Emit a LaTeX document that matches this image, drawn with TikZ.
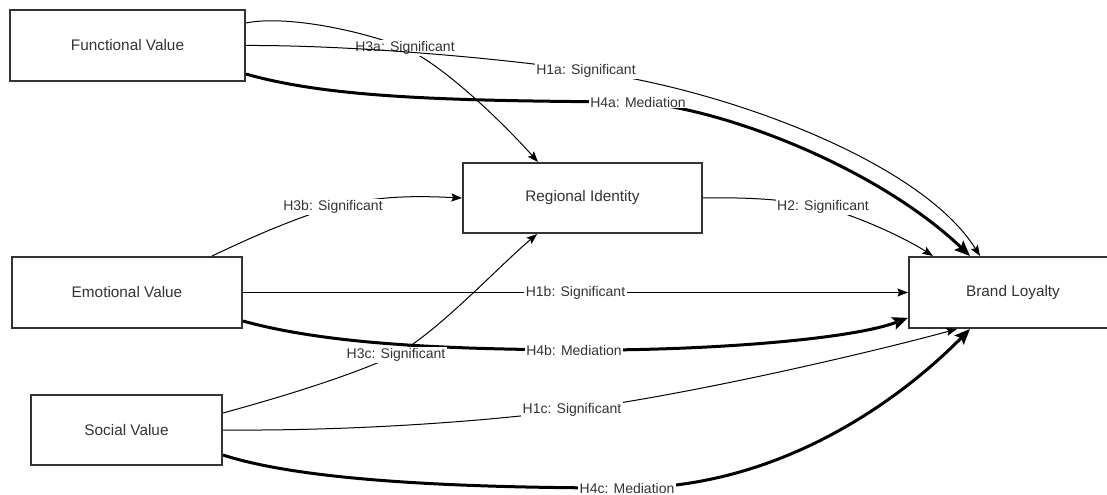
\documentclass[tikz,border=0pt]{standalone}
\usepackage{fontspec}
\setmainfont{Liberation Sans}
\usetikzlibrary{arrows.meta}
\definecolor{ink}{HTML}{333333}
\begin{document}
\begin{tikzpicture}[x=0.75pt,y=-0.75pt,
  box/.style={draw=ink, line width=1.5pt, fill=white, text=ink, inner sep=0pt,
    font=\fontsize{11.5}{13}\selectfont},
  lbl/.style={fill=white, text=ink, inner sep=1pt, font=\fontsize{10.5}{12}\selectfont},
  thinedge/.style={line width=0.75pt, -{Stealth[length=8pt,width=6pt,inset=1.4pt]}},
  thickedge/.style={line width=2.25pt, -{Stealth[length=11.5pt,width=9.5pt,inset=2pt]}}]
\useasboundingbox (0,0) rectangle (1107,495);
% boxes
\node[box, minimum width=176.25pt, minimum height=53.25pt] (fv) at (127.5,45.5) {Functional Value};
\node[box, minimum width=179.25pt, minimum height=52.5pt] (ri) at (582.5,198) {Regional Identity};
\node[box, minimum width=172.5pt, minimum height=53.25pt] (ev) at (127,292.5) {Emotional Value};
\node[box, minimum width=143.25pt, minimum height=52.5pt] (sv) at (126.5,430) {Social Value};
\node[box, minimum width=156pt, minimum height=53.25pt] (bl) at (1013,292.5) {Brand Loyalty};
% label anchor points
\coordinate (c3a) at (405,48);
\coordinate (c1a) at (586,71);
\coordinate (c4a) at (638,102);
\coordinate (c3b) at (333,207);
\coordinate (c2) at (823,207);
\coordinate (c4b) at (574,350);
\coordinate (c3c) at (396,355);
\coordinate (c1c) at (572,410);
\coordinate (c4c) at (627,488);
% H3a
\draw[thinedge] ([yshift=16.9pt]fv.east) .. controls (285,15) and (360,30) .. (c3a)
  .. controls (445,66) and (505,125) .. ([xshift=-33.4pt]ri.north);
\node[lbl] (l3a) at (c3a) {H3a: Significant};
% H1a
\draw[thinedge] (fv.east) .. controls (350,45) and (500,58) .. (c1a)
  .. controls (720,88) and (920,160) .. ([xshift=-24.75pt]bl.north);
\node[lbl] (l1a) at (c1a) {H1a: Significant};
% H4a
\draw[thickedge] ([yshift=-21.4pt]fv.east) .. controls (330,98) and (450,101) .. (c4a)
  .. controls (730,110) and (880,170) .. ([xshift=-32.25pt]bl.north);
\node[lbl] (l4a) at (c4a) {H4a: Mediation};
% H3b
\draw[thinedge] ([xshift=63.75pt]ev.north) .. controls (250,238) and (290,220) .. (c3b)
  .. controls (380,195) and (420,196) .. (ri.west);
\node[lbl] (l3b) at (c3b) {H3b: Significant};
% H2
\draw[thinedge] (ri.east) .. controls (750,197) and (790,200) .. (c2)
  .. controls (860,217) and (905,238) .. ([xshift=-60pt]bl.north);
\node[lbl] (l2) at (c2) {H2: Significant};
% H1b
\draw[thinedge] (ev.east) -- node[lbl, pos=0.5] (l1b) {H1b: Significant} (bl.west);
% H4b
\draw[thickedge] ([yshift=-21.4pt]ev.east) .. controls (330,345) and (450,349) .. (c4b)
  .. controls (700,351) and (850,340) .. ([yshift=-19pt]bl.west);
\node[lbl] (l4b) at (c4b) {H4b: Mediation};
% H3c
\draw[thinedge] ([yshift=12.75pt]sv.east) .. controls (270,400) and (340,380) .. (c3c)
  .. controls (440,330) and (500,265) .. ([xshift=-34pt]ri.south);
\node[lbl] (l3c) at (c3c) {H3c: Significant};
% H1c
\draw[thinedge] (sv.east) .. controls (350,431) and (480,422) .. (c1c)
  .. controls (700,393) and (880,350) .. ([xshift=-42pt]bl.south);
\node[lbl] (l1c) at (c1c) {H1c: Significant};
% H4c
\draw[thickedge] ([yshift=-18.75pt]sv.east) .. controls (300,480) and (450,488) .. (c4c)
  .. controls (780,488) and (900,400) .. ([xshift=-32.25pt]bl.south);
\node[lbl] (l4c) at (c4c) {H4c: Mediation};
\end{tikzpicture}
\end{document}
